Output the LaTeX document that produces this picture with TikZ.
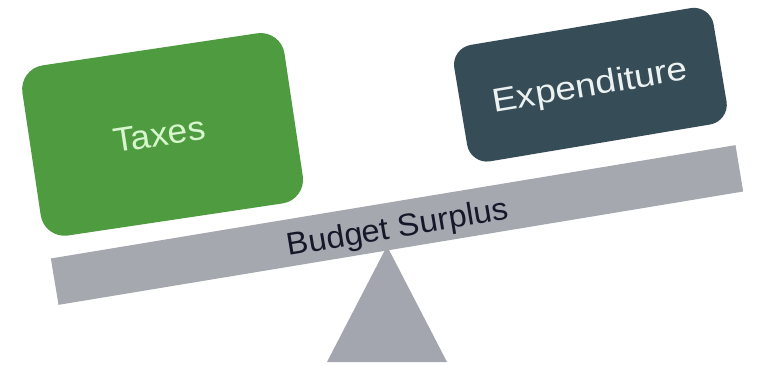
\documentclass[tikz,border=0pt]{standalone}
\usepackage{fontspec}
\setmainfont{Liberation Sans}
\newfontfamily\widefont[FakeStretch=1.12]{Liberation Sans}
\newfontfamily\midfont[FakeStretch=1.04]{Liberation Sans}
\definecolor{taxgreen}{HTML}{4F9C40}
\definecolor{taxtext}{HTML}{D8F6CE}
\definecolor{expslate}{HTML}{364D57}
\definecolor{exptext}{HTML}{ECF2F1}
\definecolor{beamgray}{HTML}{A6A8B0}
\definecolor{fulcrumgray}{HTML}{A4A6AF}
\definecolor{beamtext}{HTML}{17172A}
\begin{document}
\begin{tikzpicture}[x=1pt,y=-1pt,
  panel/.style={inner sep=0pt, outer sep=0pt, draw=none},
  lbl/.style={inner sep=0pt, outer sep=0pt, anchor=base}]
\useasboundingbox (0,0) rectangle (760,366);
% fulcrum
\coordinate (apex) at (387,246);
\coordinate (baseL) at (327,362);
\coordinate (baseR) at (447,362);
\fill[fulcrumgray] (apex) -- (baseL) -- (baseR) -- cycle;
% beam
\node[panel, fill=beamgray, rotate=9.4, minimum width=694pt, minimum height=47pt] (beam) at (397,225) {};
\node[lbl, rotate=9.4, text=beamtext, font=\midfont\fontsize{31.5}{36}\selectfont] (beamlabel) at (399,237.4) {Budget Surplus};
% taxes
\node[panel, fill=taxgreen, rotate=8.5, minimum width=265pt, minimum height=172pt, rounded corners=24pt] (taxes) at (162.6,134.4) {};
\node[lbl, rotate=8.5, text=taxtext, font=\midfont\fontsize{34}{40}\selectfont] (taxlabel) at (161,146) {Taxes};
% expenditure
\node[panel, fill=expslate, rotate=9.5, minimum width=263pt, minimum height=118pt, rounded corners=20pt] (exp) at (590.4,84.7) {};
\node[lbl, rotate=9.5, text=exptext, font=\widefont\fontsize{33}{38}\selectfont] (explabel) at (591.8,95.8) {Expenditure};
\end{tikzpicture}
\end{document}
